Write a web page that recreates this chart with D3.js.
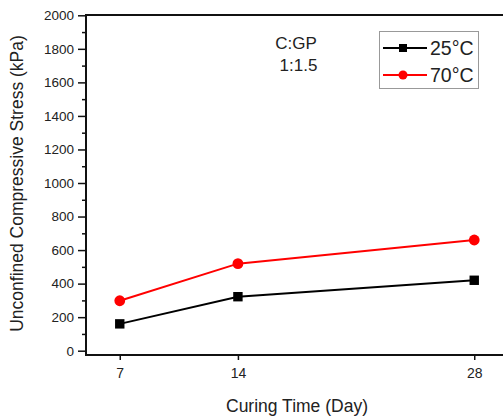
<!DOCTYPE html>
<html><head><meta charset="utf-8">
<script src="https://cdn.jsdelivr.net/npm/d3@7"></script>
<style>
html,body{margin:0;padding:0;background:#fff;}
svg{display:block;font-family:"Liberation Sans",Arial,sans-serif;}
</style></head>
<body>
<svg id="c" width="503" height="417"></svg>
<script>
const days = [7, 14, 28];
const xTickLabels = ["7", "14", "28"];
const yTicks = [0,200,400,600,800,1000,1200,1400,1600,1800,2000];
const yMinorTicks = [100,300,500,700,900,1100,1300,1500,1700,1900];
const seriesNames = ["25°C", "70°C"];
const values25 = [160, 322, 420];
const values70 = [298, 519, 660];

const svg = d3.select("#c");
const x = d3.scaleLinear().domain([5, 30]).range([86, 508]);
const y = d3.scaleLinear().domain([0, 2000]).range([350.7, 15.3]);
const axisY = 355;
const textColor = "#222";

// frame
svg.append("line").attr("x1",86).attr("x2",510).attr("y1",15).attr("y2",15).attr("stroke","#111").attr("stroke-width",2);
svg.append("line").attr("x1",86).attr("x2",86).attr("y1",14).attr("y2",axisY+1).attr("stroke","#111").attr("stroke-width",2);

// y axis
const gy = svg.append("g").attr("transform","translate(86,0)")
  .call(d3.axisLeft(y).tickValues(yTicks).tickSize(8).tickSizeOuter(0).tickPadding(4).tickFormat(d3.format("d")));
gy.select(".domain").remove();
gy.selectAll(".tick line").attr("stroke","#111").attr("stroke-width",1.5);
gy.selectAll(".tick text").attr("font-size",13.5).attr("fill",textColor).attr("font-family","Liberation Sans, Arial, sans-serif");
const gym = svg.append("g").attr("transform","translate(86,0)")
  .call(d3.axisLeft(y).tickValues(yMinorTicks).tickSize(4).tickFormat(""));
gym.select(".domain").remove();
gym.selectAll(".tick line").attr("stroke","#111").attr("stroke-width",1.5);

// x axis
const gx = svg.append("g").attr("transform",`translate(0,${axisY})`)
  .call(d3.axisBottom(x).tickValues(days).tickSize(5).tickPadding(8).tickFormat((d,i)=>xTickLabels[i]));
gx.select(".domain").attr("d",`M86,0H510`).attr("stroke","#111").attr("stroke-width",2);
gx.selectAll(".tick line").attr("stroke","#111").attr("stroke-width",1.5);
gx.selectAll(".tick text").attr("font-size",14).attr("fill",textColor).attr("font-family","Liberation Sans, Arial, sans-serif");

// titles
svg.append("text").attr("x",297).attr("y",412).attr("text-anchor","middle")
  .attr("font-size",17.5).attr("fill",textColor).text("Curing Time (Day)");
svg.append("text").attr("transform","translate(23,183.5) rotate(-90)").attr("text-anchor","middle")
  .attr("font-size",17.5).attr("fill",textColor).text("Unconfined Compressive Stress (kPa)");

// annotation
svg.append("text").attr("x",296).attr("y",49).attr("text-anchor","middle").attr("font-size",17).attr("fill",textColor).text("C:GP");
svg.append("text").attr("x",298.5).attr("y",71).attr("text-anchor","middle").attr("font-size",17).attr("fill",textColor).text("1:1.5");

// lines
const line = d3.line().x((d,i)=>x(days[i])).y(d=>y(d));
svg.append("path").datum(values25).attr("d",line).attr("fill","none").attr("stroke","#000").attr("stroke-width",2);
svg.append("path").datum(values70).attr("d",line).attr("fill","none").attr("stroke","#ff0000").attr("stroke-width",2);
svg.append("g").selectAll("rect").data(values25).join("rect")
  .attr("x",(d,i)=>x(days[i])-4.7).attr("y",d=>y(d)-4.7).attr("width",9.4).attr("height",9.4).attr("fill","#000");
svg.append("g").selectAll("circle").data(values70).join("circle")
  .attr("cx",(d,i)=>x(days[i])).attr("cy",d=>y(d)).attr("r",5.4).attr("fill","#ff0000");

// legend
const lg = svg.append("g");
lg.append("rect").attr("x",379.5).attr("y",31.5).attr("width",99).attr("height",57).attr("fill","#fff").attr("stroke","#999").attr("stroke-width",1);
const items = [{n:seriesNames[0],c:"#000",s:"sq",yy:48},{n:seriesNames[1],c:"#ff0000",s:"ci",yy:75}];
items.forEach(it=>{
  lg.append("line").attr("x1",383).attr("x2",427).attr("y1",it.yy).attr("y2",it.yy).attr("stroke",it.c).attr("stroke-width",2);
  if(it.s==="sq") lg.append("rect").attr("x",399).attr("y",it.yy-4).attr("width",8).attr("height",8).attr("fill",it.c);
  else lg.append("circle").attr("cx",403).attr("cy",it.yy).attr("r",4.5).attr("fill",it.c);
  lg.append("text").attr("x",430).attr("y",it.yy+7).attr("font-size",19.5).attr("fill",textColor).text(it.n);
});
</script>
</body></html>
